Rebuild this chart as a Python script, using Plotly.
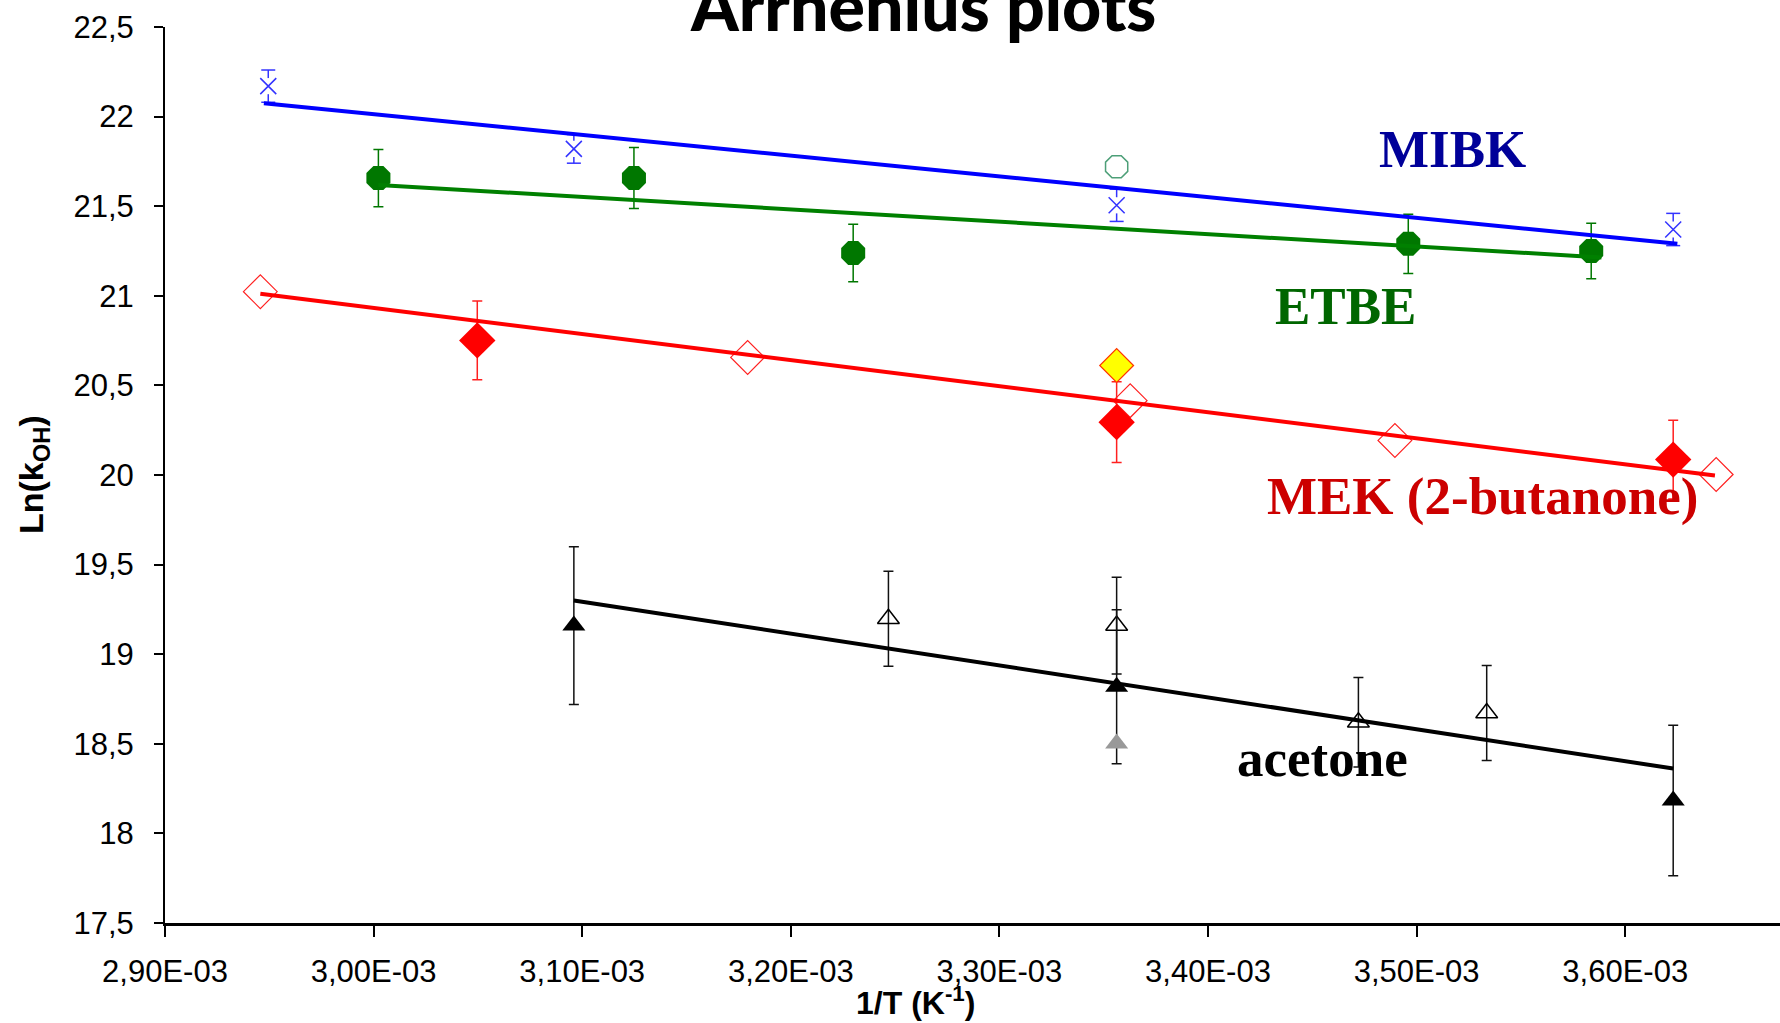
import plotly.graph_objects as go

# ---- data: 1/T (K^-1) and Ln(kOH) ----
mibk_x = [2.9495e-3, 3.096e-3, 3.3562e-3, 3.623e-3]
mibk_y = [22.17, 21.82, 21.505, 21.37]
mibk_err = [0.09, 0.08, 0.09, 0.09]
mibk_fit_x = [2.9474e-3, 3.625e-3]
mibk_fit_y = [22.075, 21.29]

etbe_x = [3.0023e-3, 3.1248e-3, 3.2299e-3, 3.496e-3, 3.5837e-3]
etbe_y = [21.657, 21.657, 21.239, 21.29, 21.25]
etbe_err = [0.16, 0.17, 0.16, 0.165, 0.155]
etbe_open_x = [3.3562e-3]
etbe_open_y = [21.72]
etbe_fit_x = [3.0023e-3, 3.5886e-3]
etbe_fit_y = [21.619, 21.214]

mek_open_x = [2.9457e-3, 3.1793e-3, 3.3627e-3, 3.4896e-3, 3.6436e-3]
mek_open_y = [21.023, 20.656, 20.415, 20.193, 20.003]
mek_x = [3.0497e-3, 3.3562e-3, 3.623e-3]
mek_y = [20.751, 20.295, 20.086]
mek_err = [0.22, 0.225, 0.22]
mek_alt_x = [3.3562e-3]
mek_alt_y = [20.611]
mek_fit_x = [2.9457e-3, 3.643e-3]
mek_fit_y = [21.011, 19.997]

acet_x = [3.096e-3, 3.3562e-3, 3.623e-3]
acet_y = [19.16, 18.818, 18.184]
acet_err = [0.44, 0.43, 0.42]
acet_open_x = [3.2468e-3, 3.3562e-3, 3.4721e-3, 3.5336e-3]
acet_open_y = [19.198, 19.16, 18.62, 18.672]
acet_open_err = [0.265, 0.27, 0.25, 0.265]
acet_alt_x = [3.3562e-3]
acet_alt_y = [18.501]
acet_fit_x = [3.096e-3, 3.623e-3]
acet_fit_y = [19.30, 18.362]

x_tickvals = [2.9e-3, 3.0e-3, 3.1e-3, 3.2e-3, 3.3e-3, 3.4e-3, 3.5e-3, 3.6e-3]
x_ticktext = ["2,90E-03", "3,00E-03", "3,10E-03", "3,20E-03",
              "3,30E-03", "3,40E-03", "3,50E-03", "3,60E-03"]
y_tickvals = [17.5, 18, 18.5, 19, 19.5, 20, 20.5, 21, 21.5, 22, 22.5]
y_ticktext = ["17,5", "18", "18,5", "19", "19,5", "20", "20,5", "21", "21,5", "22", "22,5"]

series_labels = [
    ("MIBK", 3.5172e-3, 21.822, "#000099"),
    ("ETBE", 3.4659e-3, 20.941, "#006600"),
    ("MEK (2-butanone)", 3.5315e-3, 19.88, "#cc0000"),
    ("acetone", 3.4551e-3, 18.42, "#000000"),
]


def err(vals, color):
    return dict(type="data", array=vals, visible=True, color=color,
                thickness=1.5, width=5)


fig = go.Figure()

# MIBK: the whisker stem is hidden behind the thin cross, so only the
# outer parts of each bar and its caps are drawn
MIBK_BLUE = "#3333ff"
gap = 0.045
stem_x, stem_y, cap_x, cap_y = [], [], [], []
for xv, yv, ev in zip(mibk_x, mibk_y, mibk_err):
    stem_x += [xv, xv, None, xv, xv, None]
    stem_y += [yv + gap, yv + ev, None, yv - gap, yv - ev, None]
    cap_x += [xv, xv]
    cap_y += [yv + ev, yv - ev]
fig.add_trace(go.Scatter(x=stem_x, y=stem_y, mode="lines",
                         line=dict(color=MIBK_BLUE, width=1.5)))
fig.add_trace(go.Scatter(x=cap_x, y=cap_y, mode="markers",
                         marker=dict(symbol="line-ew-open", size=10, color=MIBK_BLUE,
                                     line=dict(color=MIBK_BLUE, width=1.5))))
fig.add_trace(go.Scatter(x=mibk_x, y=mibk_y, mode="markers",
                         marker=dict(symbol="x-thin-open", size=16, color=MIBK_BLUE,
                                     line=dict(color=MIBK_BLUE, width=1.5))))
# ETBE
fig.add_trace(go.Scatter(x=etbe_x, y=etbe_y, mode="markers",
                         error_y=err(etbe_err, "#007700"),
                         marker=dict(symbol="octagon", size=26, color="#007700",
                                     line=dict(width=0))))
fig.add_trace(go.Scatter(x=etbe_open_x, y=etbe_open_y, mode="markers",
                         marker=dict(symbol="octagon-open", size=24, color="#4d9f78",
                                     line=dict(color="#4d9f78", width=1.5))))
# MEK
fig.add_trace(go.Scatter(x=mek_open_x, y=mek_open_y, mode="markers",
                         marker=dict(symbol="diamond-open", size=26, color="#ff2020",
                                     line=dict(color="#ff2020", width=1.2))))
fig.add_trace(go.Scatter(x=mek_x, y=mek_y, mode="markers",
                         error_y=err(mek_err, "#ff2020"),
                         marker=dict(symbol="diamond", size=28, color="#ff0000",
                                     line=dict(width=0))))
fig.add_trace(go.Scatter(x=mek_alt_x, y=mek_alt_y, mode="markers",
                         marker=dict(symbol="diamond", size=26, color="#ffff00",
                                     line=dict(color="#ff3300", width=1.2))))
# acetone
fig.add_trace(go.Scatter(x=acet_open_x, y=acet_open_y, mode="markers",
                         error_y=err(acet_open_err, "#111111"),
                         marker=dict(symbol="triangle-up-open", size=19, color="#000000",
                                     line=dict(color="#000000", width=1.5))))
fig.add_trace(go.Scatter(x=acet_x, y=acet_y, mode="markers",
                         error_y=err(acet_err, "#111111"),
                         marker=dict(symbol="triangle-up", size=20, color="#000000",
                                     line=dict(width=0))))
fig.add_trace(go.Scatter(x=acet_alt_x, y=acet_alt_y, mode="markers",
                         marker=dict(symbol="triangle-up", size=20, color="#999999",
                                     line=dict(width=0))))

# linear fits
for fx, fy, col in [(mibk_fit_x, mibk_fit_y, "#0000ff"),
                    (etbe_fit_x, etbe_fit_y, "#008000"),
                    (mek_fit_x, mek_fit_y, "#ff0000"),
                    (acet_fit_x, acet_fit_y, "#000000")]:
    fig.add_trace(go.Scatter(x=fx, y=fy, mode="lines",
                             line=dict(color=col, width=4)))

annotations = []
for text, lx, ly, col in series_labels:
    annotations.append(dict(x=lx, y=ly, xref="x", yref="y", text=text,
                            showarrow=False, xanchor="center", yanchor="middle",
                            font=dict(family="Liberation Serif, Times New Roman, serif",
                                      size=53, color=col, weight="bold")))

annotations += [
    dict(x=0.5, y=1, xref="paper", yref="paper", xanchor="center", yanchor="bottom",
         xshift=923 - (165 + 1615 / 2), yshift=-20, text="Arrhenius plots", showarrow=False,
         font=dict(family="Comic Sans MS, Lato, sans-serif", size=68, color="#000000",
                   weight=900)),
    dict(x=0, y=0.5, xref="paper", yref="paper", xanchor="center", yanchor="middle",
         xshift=-132, text="Ln(k<sub>OH</sub>)", textangle=-90, showarrow=False,
         font=dict(family="Liberation Sans, Arial, sans-serif", size=34, color="#000000",
                   weight="bold")),
    dict(x=0, y=0, xref="paper", yref="paper", xanchor="center", yanchor="middle",
         xshift=915 - 165, yshift=-78, text="1/T (K<sup>-1</sup>)", showarrow=False,
         font=dict(family="Liberation Sans, Arial, sans-serif", size=32, color="#000000",
                   weight="bold")),
]

tick_font = dict(family="Liberation Sans, Arial, sans-serif", size=31, color="#000000")

fig.update_layout(
    width=1780, height=1023,
    margin=dict(l=165, r=0, t=27, b=100),
    paper_bgcolor="white", plot_bgcolor="white",
    showlegend=False,
    annotations=annotations,
    xaxis=dict(range=[2.9e-3, 3.6742e-3], tickvals=x_tickvals, ticktext=x_ticktext,
               showgrid=False, zeroline=False, showline=True, linecolor="#000000",
               linewidth=2.5, ticks="outside", ticklen=11, tickwidth=1.5,
               tickcolor="#000000", tickfont=tick_font, ticklabelstandoff=8),
    yaxis=dict(range=[17.5, 22.5], tickvals=y_tickvals, ticktext=y_ticktext,
               showgrid=False, zeroline=False, showline=True, linecolor="#000000",
               linewidth=2, ticks="outside", ticklen=9, tickwidth=1.5,
               tickcolor="#000000", tickfont=tick_font, ticklabelstandoff=14),
)

fig.write_html("out.html")
